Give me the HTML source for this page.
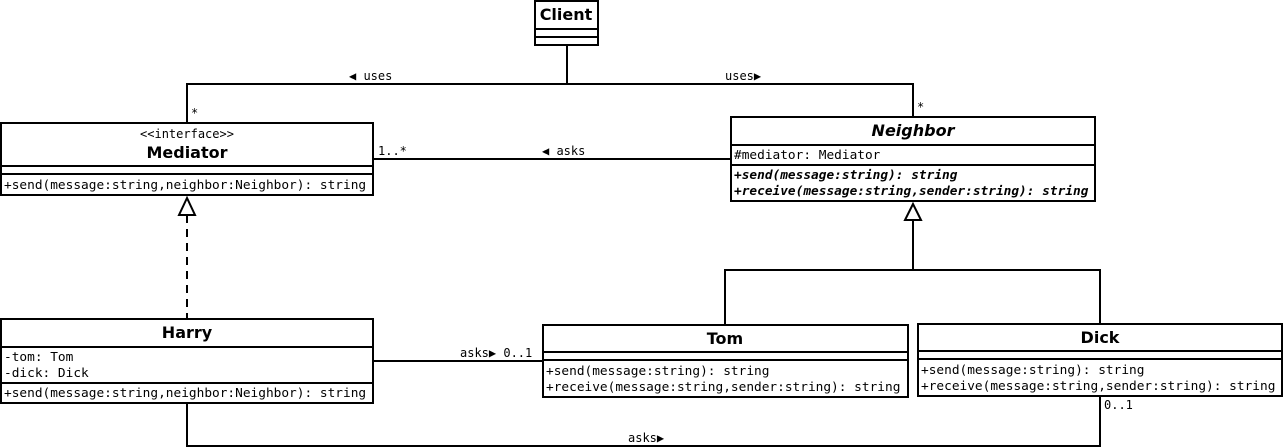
<!DOCTYPE html>
<html><head><meta charset="utf-8"><style>
html,body{margin:0;padding:0;background:#fff;}
svg{display:block;}
.m{font-family:"DejaVu Sans Mono","Liberation Mono",monospace;font-size:12.8px;fill:#000;}
.t{font-family:"DejaVu Sans","Liberation Sans",sans-serif;font-size:16px;font-weight:bold;fill:#000;}
.s{font-family:"DejaVu Sans Mono","Liberation Mono",monospace;font-size:12px;fill:#000;}
</style></head><body>
<svg width="1285" height="448" viewBox="0 0 1285 448" xmlns="http://www.w3.org/2000/svg">
<g fill="none" stroke="#000" stroke-width="2">
<polyline points="567,45 567,84"/>
<polyline points="187,123 187,84 913,84 913,117"/>
<line x1="373" y1="159" x2="731" y2="159"/>
<line x1="187" y1="215" x2="187" y2="319" stroke-dasharray="8,6"/>
<polygon points="187,198 179,215 195,215" fill="#fff"/>
<line x1="913" y1="220" x2="913" y2="270"/>
<polygon points="913,204 905,220 921,220" fill="#fff"/>
<polyline points="725,325 725,270 1100,270 1100,324"/>
<line x1="373" y1="361" x2="543" y2="361"/>
<polyline points="187,403 187,446 1100,446 1100,396"/>
<rect x="535" y="1" width="63" height="44" fill="#fff"/>
<line x1="535" y1="29" x2="598" y2="29"/><line x1="535" y1="37" x2="598" y2="37"/>
<rect x="1" y="123" width="372" height="72" fill="#fff"/>
<line x1="1" y1="166" x2="373" y2="166"/><line x1="1" y1="174" x2="373" y2="174"/>
<rect x="731" y="117" width="364" height="84" fill="#fff"/>
<line x1="731" y1="145" x2="1095" y2="145"/><line x1="731" y1="165" x2="1095" y2="165"/>
<rect x="1" y="319" width="372" height="84" fill="#fff"/>
<line x1="1" y1="347" x2="373" y2="347"/><line x1="1" y1="383" x2="373" y2="383"/>
<rect x="543" y="325" width="365" height="72" fill="#fff"/>
<line x1="543" y1="352" x2="908" y2="352"/><line x1="543" y1="360" x2="908" y2="360"/>
<rect x="918" y="324" width="364" height="72" fill="#fff"/>
<line x1="918" y1="351" x2="1282" y2="351"/><line x1="918" y1="359" x2="1282" y2="359"/>
</g>
<text class="t" x="566" y="20" text-anchor="middle">Client</text>
<text class="s" x="187" y="138" text-anchor="middle">&lt;&lt;interface&gt;&gt;</text>
<text class="t" x="187" y="158" text-anchor="middle">Mediator</text>
<text class="m" x="4" y="189">+send(message:string,neighbor:Neighbor): string</text>
<text class="t" x="913" y="136" text-anchor="middle" font-style="italic">Neighbor</text>
<text class="m" x="734" y="159">#mediator: Mediator</text>
<text class="m" x="734" y="179" font-weight="bold" font-style="italic">+send(message:string): string</text>
<text class="m" x="734" y="195" font-weight="bold" font-style="italic">+receive(message:string,sender:string): string</text>
<text class="t" x="187" y="338" text-anchor="middle">Harry</text>
<text class="m" x="4" y="361">-tom: Tom</text>
<text class="m" x="4" y="377">-dick: Dick</text>
<text class="m" x="4" y="397">+send(message:string,neighbor:Neighbor): string</text>
<text class="t" x="725" y="344" text-anchor="middle">Tom</text>
<text class="m" x="546" y="375">+send(message:string): string</text>
<text class="m" x="546" y="391">+receive(message:string,sender:string): string</text>
<text class="t" x="1100" y="343" text-anchor="middle">Dick</text>
<text class="m" x="921" y="374">+send(message:string): string</text>
<text class="m" x="921" y="390">+receive(message:string,sender:string): string</text>
<text class="s" x="349" y="80">◀ uses</text>
<text class="s" x="725" y="80">uses▶</text>
<text class="s" x="191" y="117">*</text>
<text class="s" x="917" y="111">*</text>
<text class="s" x="378" y="155">1..*</text>
<text class="s" x="542" y="155">◀ asks</text>
<text class="s" x="460" y="357">asks▶ 0..1</text>
<text class="s" x="1104" y="409">0..1</text>
<text class="s" x="628" y="442">asks▶</text>
</svg>
</body></html>
